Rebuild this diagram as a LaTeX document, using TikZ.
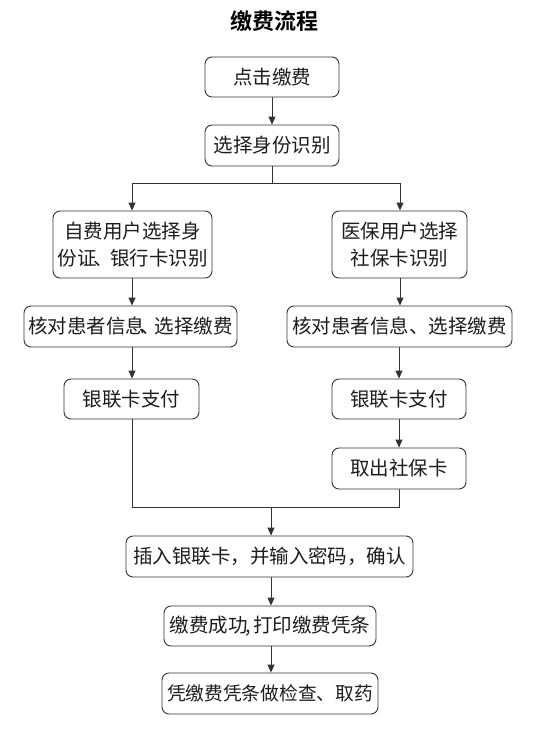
\documentclass[tikz,border=0pt]{standalone}
\usepackage{fontspec}
\newfontfamily\cjk{Noto Sans CJK SC}
\newfontfamily\cjkbold{Noto Sans CJK SC Bold}
\usetikzlibrary{arrows.meta}
\definecolor{linec}{HTML}{333333}
\definecolor{textc}{HTML}{1C1C1C}
\tikzset{
  box/.style={draw=linec, line width=0.9pt, rounded corners=7pt, fill=white,
    inner sep=0pt, align=center, text=textc,
    font=\cjk\fontsize{19.5}{27}\selectfont},
  conn/.style={draw=linec, line width=0.9pt},
  arr/.style={conn, -{Triangle[length=8pt,width=7pt]}},
}
\begin{document}
\begin{tikzpicture}[x=1pt,y=-1pt]
\useasboundingbox (0,0) rectangle (554,737);
\fill[white] (0,0) rectangle (554,737);
\node[text=black, font=\cjkbold\fontsize{22}{26}\selectfont] (title) at (274,21) {缴费流程};
\node[box, minimum width=134pt, minimum height=40pt] (b1) at (272,77) {点击缴费};
\node[box, minimum width=134pt, minimum height=41pt] (b2) at (272,145.5) {选择身份识别};
\node[box, minimum width=159pt, minimum height=67pt] (b3L) at (132.5,244.5) {自费用户选择身\\份证\kern-3pt、\kern-3pt银行卡识别};
\node[box, minimum width=135pt, minimum height=67pt] (b3R) at (399.5,244.5) {医保用户选择\\社保卡识别};
\node[box, minimum width=213pt, minimum height=41pt] (b4L) at (130.5,326.5) {核对患者信息\kern-5pt、\kern-5pt选择缴费};
\node[box, minimum width=225pt, minimum height=41pt] (b4R) at (399.5,326.5) {核对患者信息、选择缴费};
\node[box, minimum width=135pt, minimum height=40pt] (b5L) at (131.5,399) {银联卡支付};
\node[box, minimum width=134pt, minimum height=40pt] (b5R) at (399,399) {银联卡支付};
\node[box, minimum width=134pt, minimum height=41pt] (b6R) at (399,468.5) {取出社保卡};
\node[box, minimum width=287pt, minimum height=41pt] (b7) at (269.5,556.5) {插入银联卡，并输入密码，确认};
\node[box, minimum width=212pt, minimum height=40pt] (b8) at (270,626) {缴费成功\kern-2pt,\kern2pt打印缴费凭条};
\node[box, minimum width=216pt, minimum height=41pt, font=\cjk\fontsize{18.7}{27}\selectfont] (b9) at (270,693.5) {凭缴费凭条做检查、取药};
\coordinate (split) at (272,183);
\coordinate (jl) at (132,183);
\coordinate (jr) at (400,183);
\coordinate (ml) at (132,507);
\coordinate (mr) at (399,507);
\coordinate (mc) at (271,507);
\draw[arr] (b1.south) -- (b2.north);
\draw[conn] (b2.south) -- (split);
\draw[conn] (jl) -- (jr);
\draw[arr] (jl) -- (jl |- b3L.north);
\draw[arr] (jr) -- (jr |- b3R.north);
\draw[arr] (jl |- b3L.south) -- (jl |- b4L.north);
\draw[arr] (jl |- b4L.south) -- (jl |- b5L.north);
\draw[conn] (jl |- b5L.south) -- (ml) -- (mr) -- (mr |- b6R.south);
\draw[arr] (jr |- b3R.south) -- (jr |- b4R.north);
\draw[arr] (mr |- b4R.south) -- (mr |- b5R.north);
\draw[arr] (mr |- b5R.south) -- (mr |- b6R.north);
\draw[arr] (mc) -- (mc |- b7.north);
\draw[arr] (mc |- b7.south) -- (mc |- b8.north);
\draw[arr] (mc |- b8.south) -- (mc |- b9.north);
\end{tikzpicture}
\end{document}
